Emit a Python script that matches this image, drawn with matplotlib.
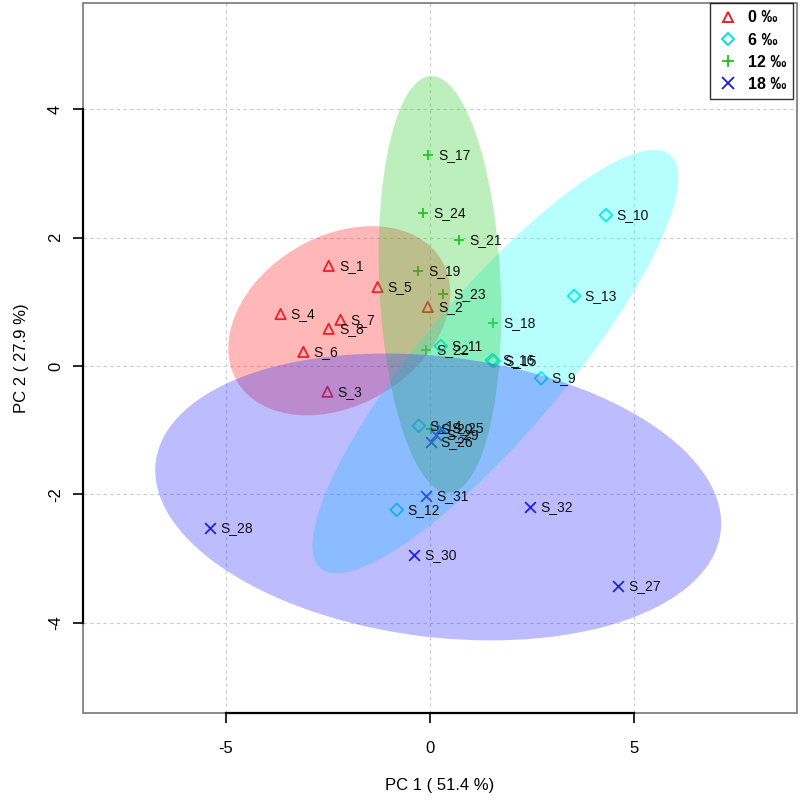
import numpy as np
import matplotlib
matplotlib.use("Agg")
import matplotlib.pyplot as plt
from matplotlib.patches import Ellipse, Rectangle
from matplotlib.lines import Line2D

plt.rcParams['font.family'] = ['Liberation Sans', 'DejaVu Sans']

# PCA scores per salinity group
groups = ["0 ‰", "6 ‰", "12 ‰", "18 ‰"]

names_0 = ["S_1", "S_2", "S_3", "S_4", "S_5", "S_6", "S_7", "S_8"]
pc1_0 = [-2.48, -0.05, -2.51, -3.66, -1.28, -3.10, -2.19, -2.48]
pc2_0 = [1.56, 0.92, -0.40, 0.81, 1.23, 0.22, 0.72, 0.58]

names_6 = ["S_9", "S_10", "S_11", "S_12", "S_13", "S_14", "S_15", "S_16"]
pc1_6 = [2.73, 4.32, 0.27, -0.81, 3.54, -0.27, 1.57, 1.52]
pc2_6 = [-0.19, 2.35, 0.31, -2.24, 1.09, -0.93, 0.08, 0.09]

names_12 = ["S_17", "S_18", "S_19", "S_20", "S_21", "S_22", "S_23", "S_24"]
pc1_12 = [-0.05, 1.55, -0.29, 0.02, 0.71, -0.10, 0.32, -0.17]
pc2_12 = [3.28, 0.67, 1.48, -0.98, 1.96, 0.25, 1.12, 2.39]

names_18 = ["S_25", "S_26", "S_27", "S_28", "S_29", "S_30", "S_31", "S_32"]
pc1_18 = [0.27, 0.02, 4.62, -5.38, 0.15, -0.39, -0.10, 2.46]
pc2_18 = [-0.96, -1.18, -3.42, -2.52, -1.07, -2.95, -2.02, -2.19]

colors = ["#e8202a", "#00e0e8", "#1fbf1f", "#1a1ad8"]
fills = ["#ff2020", "#20ffff", "#30d030", "#3030ff"]
markers = ["^", "D", "+", "x"]

data = [
    (names_0, pc1_0, pc2_0),
    (names_6, pc1_6, pc2_6),
    (names_12, pc1_12, pc2_12),
    (names_18, pc1_18, pc2_18),
]

fig = plt.figure(figsize=(8, 8), dpi=100)
ax = fig.add_axes([0.104, 0.109, 0.892, 0.887])

ax.set_xlim(-8.5, 9.0)
ax.set_ylim(-5.4, 5.65)

for v in [-5, 0, 5]:
    ax.axvline(v, color="#cccccc", lw=0.8, ls=(0, (3, 3)), zorder=0)
for v in [-4, -2, 0, 2, 4]:
    ax.axhline(v, color="#cccccc", lw=0.8, ls=(0, (3, 3)), zorder=0)

chi = np.sqrt(5.991)  # 95% level, 2 dof
for (names, xs, ys), col, fc, mk in zip(data, colors, fills, markers):
    xs = np.array(xs)
    ys = np.array(ys)
    if mk in ("+", "x"):
        ax.scatter(xs, ys, marker=mk, color=col, s=60, linewidths=1.3, zorder=2)
    else:
        ms = 55 if mk == "^" else 42
        ax.scatter(xs, ys, marker=mk, facecolors="none", edgecolors=col,
                   s=ms, linewidths=1.3, zorder=2)
    for n, x, y in zip(names, xs, ys):
        ax.text(x + 0.25, y, n, fontsize=10, color="#111111",
                va="center", ha="left", zorder=4)

    cov = np.cov(xs, ys)
    vals, vecs = np.linalg.eigh(cov)
    order = vals.argsort()[::-1]
    vals, vecs = vals[order], vecs[:, order]
    angle = np.degrees(np.arctan2(vecs[1, 0], vecs[0, 0]))
    ell = Ellipse((xs.mean(), ys.mean()), 2 * chi * np.sqrt(vals[0]),
                  2 * chi * np.sqrt(vals[1]), angle=angle,
                  facecolor=fc, edgecolor="none", alpha=0.32, zorder=3)
    ax.add_patch(ell)

# R-style axes: grey box plus black axis lines between first and last tick
for s in ["top", "right"]:
    ax.spines[s].set_visible(False)
ax.add_patch(Rectangle((0, 0), 1, 1, transform=ax.transAxes, fill=False,
                       edgecolor="#777777", lw=1.2, zorder=5, clip_on=False))
ax.spines["bottom"].set_bounds(-5, 5)
ax.spines["left"].set_bounds(-4, 4)
for s in ["bottom", "left"]:
    ax.spines[s].set_linewidth(1.6)
    ax.spines[s].set_zorder(6)

ax.set_xticks([-5, 0, 5])
ax.set_yticks([-4, -2, 0, 2, 4])
ax.set_xticklabels(["-5", "0", "5"], fontsize=12)
ax.set_yticklabels(["-4", "-2", "0", "2", "4"], fontsize=12,
                   rotation=90, va="center")
ax.tick_params(direction="out", length=7.5, width=1.2)
ax.tick_params(axis="x", pad=13)
ax.tick_params(axis="y", pad=7)
ax.set_xlabel("PC 1 ( 51.4 %)", fontsize=12, labelpad=16)
ax.set_ylabel("PC 2 ( 27.9 %)", fontsize=12, labelpad=14)

handles = []
for g, col, mk in zip(groups, colors, markers):
    if mk in ("+", "x"):
        h = Line2D([0], [0], marker=mk, color=col, ls="none", markersize=8.5, markeredgewidth=1.3)
    else:
        h = Line2D([0], [0], marker=mk, color=col, markerfacecolor="none", ls="none",
                   markersize=7.5 if mk == "^" else 6, markeredgewidth=1.4)
    handles.append(h)
leg = ax.legend(handles, groups, loc="upper right", bbox_to_anchor=(0.995, 1.0),
                borderaxespad=0, fancybox=False, edgecolor="black",
                prop={"weight": "bold", "size": 11.5}, handletextpad=0.5,
                labelspacing=0.45, borderpad=0.45, handlelength=1.4)
leg.get_frame().set_linewidth(1.0)
leg.set_zorder(10)

fig.savefig("out.png", dpi=100)
